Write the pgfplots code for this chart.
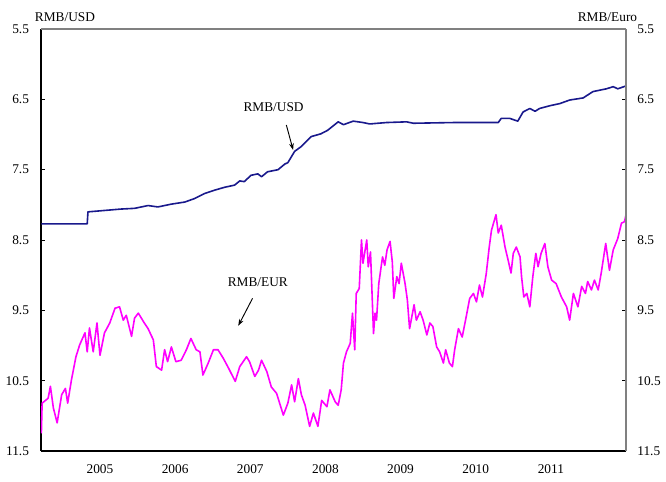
\documentclass[border=0pt]{standalone}
\usepackage{fontspec}
\setmainfont{Liberation Serif}
\usepackage{pgfplots}
\usepackage{pgfplotstable}
\pgfplotsset{compat=1.18}
\usetikzlibrary{arrows.meta,calc}
\definecolor{usdblue}{RGB}{25,25,140}
\definecolor{eurmag}{RGB}{255,0,255}

\pgfplotstableread{
year rate
2004.22 8.27
2004.83 8.27
2004.84 8.10
2005.06 8.08
2005.28 8.06
2005.46 8.05
2005.64 8.01
2005.77 8.03
2005.95 7.99
2006.13 7.96
2006.26 7.91
2006.39 7.84
2006.53 7.79
2006.66 7.75
2006.79 7.72
2006.86 7.66
2006.92 7.67
2007.01 7.58
2007.10 7.56
2007.15 7.60
2007.23 7.53
2007.37 7.50
2007.46 7.42
2007.50 7.40
2007.59 7.24
2007.68 7.17
2007.81 7.03
2007.94 6.99
2008.03 6.94
2008.17 6.82
2008.24 6.86
2008.37 6.81
2008.50 6.83
2008.59 6.85
2008.81 6.83
2009.08 6.82
2009.17 6.84
2009.70 6.83
2010.30 6.83
2010.34 6.77
2010.45 6.77
2010.56 6.81
2010.63 6.68
2010.72 6.63
2010.79 6.67
2010.85 6.63
2010.99 6.59
2011.12 6.56
2011.25 6.51
2011.43 6.48
2011.56 6.39
2011.74 6.35
2011.83 6.32
2011.89 6.35
2012.00 6.31
}\usdtable

\pgfplotstableread{
year rate
2004.22 11.25
2004.23 10.82
2004.31 10.75
2004.34 10.58
2004.38 10.89
2004.43 11.10
2004.49 10.70
2004.54 10.61
2004.57 10.82
2004.62 10.49
2004.68 10.16
2004.73 9.99
2004.80 9.82
2004.83 10.09
2004.86 9.75
2004.91 10.09
2004.96 9.68
2005.00 10.14
2005.06 9.82
2005.13 9.68
2005.20 9.47
2005.26 9.45
2005.31 9.64
2005.35 9.57
2005.42 9.87
2005.46 9.61
2005.51 9.54
2005.59 9.68
2005.64 9.76
2005.71 9.92
2005.75 10.30
2005.82 10.35
2005.86 10.06
2005.90 10.23
2005.95 10.02
2006.01 10.23
2006.08 10.21
2006.15 10.06
2006.21 9.90
2006.28 10.06
2006.33 10.09
2006.37 10.42
2006.44 10.25
2006.51 10.06
2006.57 10.06
2006.64 10.18
2006.71 10.32
2006.80 10.51
2006.86 10.30
2006.95 10.16
2006.99 10.23
2007.06 10.44
2007.11 10.35
2007.15 10.21
2007.22 10.37
2007.28 10.59
2007.35 10.68
2007.44 10.99
2007.50 10.82
2007.55 10.56
2007.59 10.80
2007.64 10.47
2007.68 10.70
2007.73 10.85
2007.79 11.15
2007.84 10.96
2007.90 11.15
2007.95 10.78
2008.02 10.87
2008.06 10.63
2008.13 10.80
2008.17 10.85
2008.21 10.63
2008.24 10.25
2008.28 10.09
2008.33 9.97
2008.36 9.54
2008.39 10.06
2008.41 9.26
2008.45 9.19
2008.48 8.50
2008.50 8.83
2008.55 8.50
2008.57 8.88
2008.60 8.67
2008.64 9.83
2008.66 9.54
2008.68 9.64
2008.71 9.12
2008.76 8.74
2008.79 8.86
2008.82 8.64
2008.86 8.52
2008.89 8.81
2008.91 9.33
2008.95 9.02
2008.98 9.12
2009.01 8.83
2009.06 9.12
2009.09 9.35
2009.12 9.76
2009.18 9.42
2009.21 9.64
2009.26 9.52
2009.30 9.64
2009.35 9.85
2009.39 9.68
2009.43 9.73
2009.48 10.02
2009.52 10.09
2009.57 10.25
2009.60 10.06
2009.65 10.25
2009.69 10.30
2009.72 10.06
2009.77 9.76
2009.82 9.88
2009.87 9.61
2009.92 9.33
2009.97 9.26
2010.01 9.38
2010.05 9.14
2010.09 9.31
2010.14 8.98
2010.18 8.60
2010.21 8.36
2010.27 8.14
2010.30 8.40
2010.34 8.29
2010.39 8.60
2010.43 8.78
2010.47 8.97
2010.50 8.69
2010.54 8.60
2010.59 8.74
2010.61 9.02
2010.64 9.31
2010.68 9.26
2010.72 9.45
2010.76 9.02
2010.80 8.69
2010.83 8.88
2010.87 8.69
2010.92 8.55
2010.96 8.88
2011.01 9.07
2011.07 9.12
2011.14 9.31
2011.21 9.45
2011.25 9.64
2011.30 9.26
2011.36 9.45
2011.41 9.16
2011.46 9.26
2011.49 9.09
2011.54 9.21
2011.58 9.07
2011.63 9.21
2011.67 8.97
2011.73 8.55
2011.78 8.93
2011.83 8.64
2011.89 8.48
2011.94 8.26
2011.98 8.24
2012.00 8.14
}\eurtable

\begin{document}
\begin{tikzpicture}[font=\fontsize{10}{12}\selectfont]
\begin{axis}[
  name=main,
  scale only axis, width=438.75pt, height=316.5pt,
  xmin=2004.215, xmax=2012.0,
  ymin=5.5, ymax=11.5, y dir=reverse,
  axis x line=bottom, axis y line=left,
  every outer x axis line/.append style={-},
  every outer y axis line/.append style={-},
  axis line style={-, black, line width=0.8pt},
  xtick={2005,2006,2007,2008,2009,2010,2011},
  xticklabels={2005,2006,2007,2008,2009,2010,2011},
  x tick style={draw=none},
  ytick={5.5,6.5,7.5,8.5,9.5,10.5,11.5},
  yticklabels={5.5,6.5,7.5,8.5,9.5,10.5,11.5},
  tick align=inside, major tick length=3pt,
  y tick style={black, line width=0.6pt},
  tick label style={font=\fontsize{10}{12}\selectfont},
  xticklabel style={yshift=-7pt},
  yticklabel style={xshift=-5.5pt},
]
\addplot[color=usdblue, line width=1.2pt, line join=round] table[x=year,y=rate]{\usdtable};
\addplot[color=eurmag, line width=1.2pt, line join=round] table[x=year,y=rate]{\eurtable};
\node at (axis cs:2007.31,6.61) {RMB/USD};
\draw[-{Stealth[length=5pt,width=3.5pt]}, line width=0.7pt] (axis cs:2007.48,6.865) -- (axis cs:2007.57,7.22);
\node at (axis cs:2007.10,9.10) {RMB/EUR};
\draw[-{Stealth[length=5pt,width=3.5pt]}, line width=0.7pt] (axis cs:2007.03,9.33) -- (axis cs:2006.84,9.72);
\end{axis}
\begin{axis}[
  scale only axis, width=438.75pt, height=316.5pt,
  xmin=2004.215, xmax=2012.0,
  ymin=5.5, ymax=11.5, y dir=reverse,
  axis x line=top, axis y line=right,
  every outer x axis line/.append style={-},
  every outer y axis line/.append style={-},
  axis line style={-, black!50, line width=0.8pt},
  xtick=\empty,
  ytick={5.5,6.5,7.5,8.5,9.5,10.5,11.5},
  yticklabels={5.5,6.5,7.5,8.5,9.5,10.5,11.5},
  tick align=inside, major tick length=3pt,
  y tick style={black, line width=0.6pt},
  tick label style={font=\fontsize{10}{12}\selectfont},
  yticklabel style={xshift=5pt},
]
\end{axis}
\node[anchor=base] at ($(main.north west)+(18pt,5.25pt)$) {RMB/USD};
\node[anchor=base] at ($(main.north east)+(-13.9pt,5.25pt)$) {RMB/Euro};
\path ($(main.south west)+(-30.75pt,-22.5pt)$) rectangle ($(main.north east)+(30pt,21.75pt)$);
\end{tikzpicture}
\end{document}
